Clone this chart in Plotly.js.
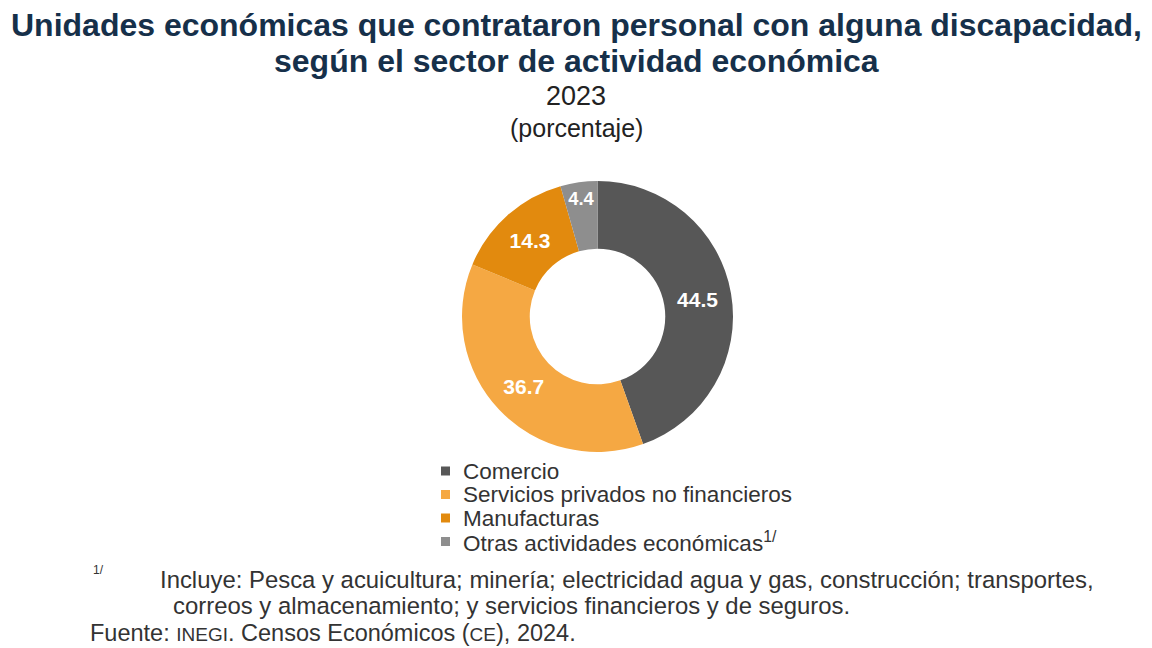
<!DOCTYPE html>
<html>
<head>
<meta charset="utf-8">
<script src="https://cdn.plot.ly/plotly-3.0.1.min.js"></script>
<style>html,body{margin:0;padding:0;background:#fff;}#chart{width:1152px;height:648px;}</style>
</head>
<body>
<div id="chart"></div>
<script>
const categories = ["Comercio", "Servicios privados no financieros", "Manufacturas", "Otras actividades económicas<sup>1/</sup>"];
const values = [44.5, 36.7, 14.3, 4.4];
const labelsText = ["44.5", "36.7", "14.3", "4.4"];
const colors = ["#575757", "#F5A843", "#E28A0E", "#8E8E8E"];

const W = 1152, H = 648;
const px = x => x / W;
const py = y => 1 - y / H;
const font = "Liberation Sans, Arial, sans-serif";
const navy = "#16304a";
const grey = "#333333";

const trace = {
  type: "pie",
  labels: categories,
  values: values,
  text: labelsText,
  textinfo: "text",
  textposition: "inside",
  insidetextorientation: "horizontal",
  insidetextfont: {color: "#ffffff", size: 21, family: font, weight: "bold"},
  hole: 0.5,
  sort: false,
  direction: "clockwise",
  rotation: 0,
  showlegend: false,
  marker: {colors: colors, line: {width: 0}},
  domain: {x: [px(462), px(733)], y: [py(452), py(181)]},
  hoverinfo: "label+value"
};

const annotations = [
  {text: "<b>Unidades económicas que contrataron personal con alguna discapacidad,</b>", x: 0.5, y: py(25), font: {size: 32, color: navy}},
  {text: "<b>según el sector de actividad económica</b>", x: 0.5, y: py(61), font: {size: 32, color: navy}},
  {text: "2023", x: 0.5, y: py(96), font: {size: 27, color: "#222222"}},
  {text: "(porcentaje)", x: 0.5, y: py(128), font: {size: 25, color: "#222222"}},
  {text: "1/", x: px(91), y: py(570), xanchor: "left", font: {size: 12, color: grey}},
  {text: "Incluye: Pesca y acuicultura; minería; electricidad agua y gas, construcción; transportes,", x: px(158), y: py(579), xanchor: "left", font: {size: 23.9, color: grey}},
  {text: "correos y almacenamiento; y servicios financieros y de seguros.", x: px(171), y: py(605), xanchor: "left", font: {size: 23.9, color: grey}},
  {text: "Fuente: <span style='font-size:19px'>INEGI</span>. Censos Económicos (<span style='font-size:19px'>CE</span>), 2024.", x: px(88), y: py(633), xanchor: "left", font: {size: 23.5, color: grey}}
];

const legendRows = [471, 494.5, 518, 541.5];
const shapes = [];
categories.forEach((c, i) => {
  annotations.push({text: c, x: px(461), y: py(legendRows[i]), xanchor: "left", font: {size: 22.5, color: grey}});
  shapes.push({type: "rect", xref: "paper", yref: "paper",
    x0: px(441), x1: px(450), y0: py(legendRows[i] + 4.5), y1: py(legendRows[i] - 4.5),
    fillcolor: colors[i], line: {width: 0}});
});

const anns = annotations.map(a => Object.assign({xref: "paper", yref: "paper", showarrow: false, xanchor: "center", yanchor: "middle"}, a, {font: Object.assign({family: font}, a.font)}));

const layout = {
  width: W, height: H,
  margin: {l: 0, r: 0, t: 0, b: 0},
  paper_bgcolor: "#ffffff",
  plot_bgcolor: "#ffffff",
  font: {family: font},
  showlegend: false,
  annotations: anns,
  shapes: shapes
};

Plotly.newPlot("chart", [trace], layout, {displayModeBar: false, staticPlot: true});
</script>
</body>
</html>
